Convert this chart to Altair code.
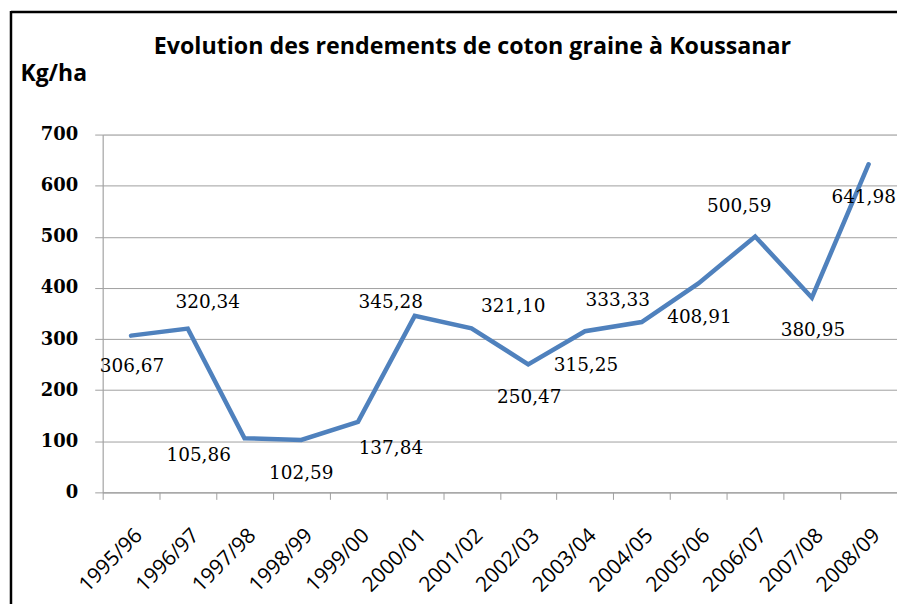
import altair as alt
import pandas as pd

# ---- data ----
seasons = ["1995/96", "1996/97", "1997/98", "1998/99", "1999/00", "2000/01",
           "2001/02", "2002/03", "2003/04", "2004/05", "2005/06", "2006/07",
           "2007/08", "2008/09"]
yields = [306.67, 320.34, 105.86, 102.59, 137.84, 345.28, 321.10, 250.47,
          315.25, 333.33, 408.91, 500.59, 380.95, 641.98]
labels = [f"{v:.2f}".replace(".", ",") for v in yields]
title_text = "Evolution des rendements de coton graine à  Koussanar"

# label placement (style): pixel offsets of each data label from its point
label_offsets = [(1, 31), (20, -27), (-46, 17), (0, 33), (33, 26), (-24, -14),
                 (42, -22), (1, 33), (1, 34), (-24, -22), (1, 34), (-16, -31),
                 (1, 32), (-5, 33)]

df = pd.DataFrame({"season": seasons, "yield": yields, "label": labels})

GRID = "#a0a0a0"
LINE = "#4f81bd"

x_enc = alt.X(
    "season:N", sort=seasons,
    scale=alt.Scale(type="band", paddingInner=0, paddingOuter=0),
    axis=alt.Axis(title=None, tickBand="extent", labelAngle=-45, labelAlign="right",
                  labelBaseline="top", labelFont="Open Sans", labelFontSize=21,
                  labelColor="black", labelPadding=25, tickSize=7, tickColor=GRID,
                  domainColor=GRID, grid=False, labelOverlap=False),
)
y_enc = alt.Y(
    "yield:Q",
    scale=alt.Scale(domain=[0, 700], nice=False),
    axis=alt.Axis(values=[0, 100, 200, 300, 400, 500, 600, 700], title="Kg/ha",
                  titleAngle=0, titleAlign="left", titleBaseline="middle",
                  titleX=-83, titleY=-61, titleFont="Open Sans", titleFontSize=23,
                  titleFontWeight="bold", titleColor="black",
                  labelFont="DejaVu Serif", labelFontSize=18, labelFontWeight="bold",
                  labelColor="black", labelPadding=17, tickSize=8, tickColor=GRID,
                  domainColor=GRID, gridColor=GRID, grid=True),
)

base = alt.Chart(df)
line = base.mark_line(color=LINE, strokeWidth=4.5, strokeCap="round",
                      strokeJoin="miter").encode(x=x_enc, y=y_enc)

layers = [line]
for s, (dx, dy) in zip(seasons, label_offsets):
    layers.append(
        base.transform_filter(alt.datum.season == s)
        .mark_text(dx=dx, dy=dy, font="DejaVu Serif", fontSize=18.5, color="black",
                   baseline="middle", align="center")
        .encode(x=alt.X("season:N", sort=seasons), y="yield:Q", text="label:N")
    )

frame_df = pd.DataFrame({"k": [0]})
title_mark = alt.Chart(frame_df).mark_text(
    text=title_text, font="Open Sans", fontSize=23.3, fontWeight="bold",
    color="black", align="center", baseline="alphabetic",
).encode(x=alt.value(371), y=alt.value(-81))
top_rule = alt.Chart(frame_df).mark_rule(color="black", strokeWidth=2.5).encode(
    x=alt.value(-92), x2=alt.value(797), y=alt.value(-123))
left_rule = alt.Chart(frame_df).mark_rule(color="black", strokeWidth=2.5).encode(
    x=alt.value(-92), y=alt.value(-124), y2=alt.value(480))
layers += [title_mark, top_rule, left_rule]

chart = alt.layer(*layers).properties(
    width=797, height=359,
    autosize=alt.AutoSizeParams(type="none"),
    padding={"left": 95, "top": 126, "right": 0, "bottom": 111},
).configure_view(stroke=None).configure(background="white")

chart.save("out.html", embed_options={"renderer": "svg", "actions": False})
